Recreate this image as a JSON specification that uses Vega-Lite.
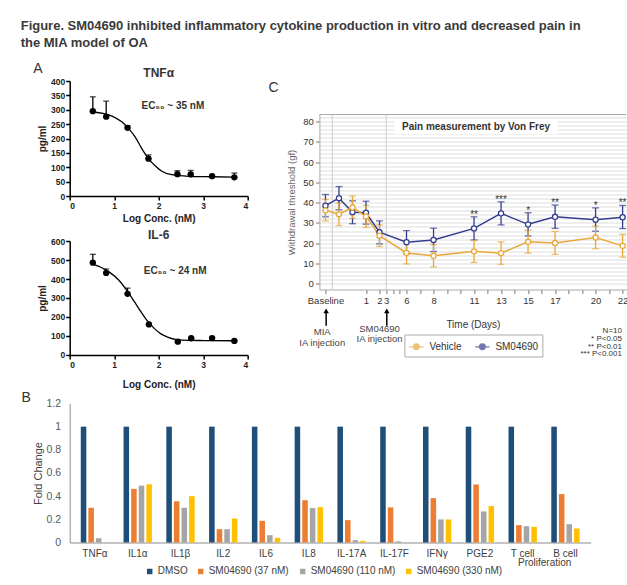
{
  "$schema": "https://vega.github.io/schema/vega-lite/v6.json",
  "background": "white",
  "padding": {"left": 20.7, "top": 20, "right": 0, "bottom": 0},
  "config": {"font": "Liberation Sans", "view": {"stroke": null}, "axis": {"grid": false}},
  "resolve": {"scale": {"color": "independent", "stroke": "independent"}, "legend": {"color": "independent", "stroke": "independent"}},
  "datasets": {
    "tnfPts": [
      {"x": 0.52, "y": 295, "hi": 345}, {"x": 0.82, "y": 276, "hi": 330}, {"x": 1.3, "y": 237, "hi": 245}, {"x": 1.77, "y": 130, "hi": 143},
      {"x": 2.42, "y": 76, "hi": 88}, {"x": 2.72, "y": 75, "hi": 89}, {"x": 3.2, "y": 69, "hi": 71}, {"x": 3.7, "y": 65, "hi": 80}
    ],
    "tnfCurve": [
      {"x": 0.52, "y": 293}, {"x": 0.75, "y": 287}, {"x": 0.95, "y": 278}, {"x": 1.17, "y": 258}, {"x": 1.31, "y": 237},
      {"x": 1.47, "y": 206}, {"x": 1.62, "y": 165}, {"x": 1.77, "y": 130}, {"x": 1.92, "y": 105}, {"x": 2.07, "y": 86},
      {"x": 2.29, "y": 74}, {"x": 2.67, "y": 68.5}, {"x": 3.19, "y": 67}, {"x": 3.7, "y": 66}
    ],
    "il6Pts": [
      {"x": 0.52, "y": 486, "hi": 530}, {"x": 0.82, "y": 432, "hi": 453}, {"x": 1.3, "y": 322, "hi": 352}, {"x": 1.78, "y": 161, "hi": 165},
      {"x": 2.43, "y": 70, "hi": 72}, {"x": 2.73, "y": 88, "hi": 90}, {"x": 3.2, "y": 89, "hi": 91}, {"x": 3.7, "y": 74, "hi": 76}
    ],
    "il6Curve": [
      {"x": 0.52, "y": 478}, {"x": 0.7, "y": 462}, {"x": 0.9, "y": 435}, {"x": 1.1, "y": 395}, {"x": 1.3, "y": 335},
      {"x": 1.45, "y": 282}, {"x": 1.6, "y": 228}, {"x": 1.75, "y": 178}, {"x": 1.9, "y": 140}, {"x": 2.05, "y": 111},
      {"x": 2.2, "y": 94}, {"x": 2.4, "y": 81}, {"x": 2.7, "y": 77}, {"x": 3.0, "y": 76}, {"x": 3.7, "y": 75}
    ],
    "pain": [
      {"p": 0, "g": "SM04690", "m": 38.5, "lo": 33.0, "hi": 44.0},
      {"p": 1, "g": "SM04690", "m": 42.2, "lo": 36.5, "hi": 47.9},
      {"p": 2, "g": "SM04690", "m": 35.3, "lo": 29.6, "hi": 40.9},
      {"p": 3, "g": "SM04690", "m": 35.0, "lo": 29.4, "hi": 40.7},
      {"p": 4, "g": "SM04690", "m": 25.4, "lo": 19.7, "hi": 31.0},
      {"p": 6, "g": "SM04690", "m": 20.5, "lo": 14.8, "hi": 26.2},
      {"p": 8, "g": "SM04690", "m": 21.6, "lo": 15.9, "hi": 27.4},
      {"p": 11, "g": "SM04690", "m": 27.3, "lo": 21.6, "hi": 33.0, "s": "**"},
      {"p": 13, "g": "SM04690", "m": 34.7, "lo": 29.0, "hi": 40.4, "s": "***"},
      {"p": 15, "g": "SM04690", "m": 29.3, "lo": 23.6, "hi": 35.0, "s": "*"},
      {"p": 17, "g": "SM04690", "m": 33.0, "lo": 27.3, "hi": 38.8, "s": "**"},
      {"p": 20, "g": "SM04690", "m": 31.6, "lo": 25.9, "hi": 37.4, "s": "*"},
      {"p": 22, "g": "SM04690", "m": 32.8, "lo": 27.2, "hi": 38.6, "s": "**"},
      {"p": 0, "g": "Vehicle", "m": 36.2, "lo": 31.0, "hi": 41.5},
      {"p": 1, "g": "Vehicle", "m": 34.3, "lo": 28.7, "hi": 39.8},
      {"p": 2, "g": "Vehicle", "m": 37.6, "lo": 32.2, "hi": 43.2},
      {"p": 3, "g": "Vehicle", "m": 33.2, "lo": 27.8, "hi": 38.6},
      {"p": 4, "g": "Vehicle", "m": 23.7, "lo": 18.4, "hi": 29.0},
      {"p": 6, "g": "Vehicle", "m": 15.2, "lo": 9.8, "hi": 20.6},
      {"p": 8, "g": "Vehicle", "m": 13.8, "lo": 8.3, "hi": 19.3},
      {"p": 11, "g": "Vehicle", "m": 16.0, "lo": 10.5, "hi": 21.5},
      {"p": 13, "g": "Vehicle", "m": 15.1, "lo": 9.6, "hi": 20.7},
      {"p": 15, "g": "Vehicle", "m": 20.7, "lo": 15.1, "hi": 26.3},
      {"p": 17, "g": "Vehicle", "m": 20.1, "lo": 14.5, "hi": 25.8},
      {"p": 20, "g": "Vehicle", "m": 22.8, "lo": 17.3, "hi": 28.4},
      {"p": 22, "g": "Vehicle", "m": 18.7, "lo": 13.1, "hi": 24.4}
    ],
    "bars": [
      {"c": "TNFα", "t": "DMSO", "v": 1}, {"c": "TNFα", "t": "SM04690 (37 nM)", "v": 0.30}, {"c": "TNFα", "t": "SM04690 (110 nM)", "v": 0.037}, {"c": "TNFα", "t": "SM04690 (330 nM)", "v": 0.0},
      {"c": "IL1α", "t": "DMSO", "v": 1}, {"c": "IL1α", "t": "SM04690 (37 nM)", "v": 0.463}, {"c": "IL1α", "t": "SM04690 (110 nM)", "v": 0.491}, {"c": "IL1α", "t": "SM04690 (330 nM)", "v": 0.503},
      {"c": "IL1β", "t": "DMSO", "v": 1}, {"c": "IL1β", "t": "SM04690 (37 nM)", "v": 0.356}, {"c": "IL1β", "t": "SM04690 (110 nM)", "v": 0.299}, {"c": "IL1β", "t": "SM04690 (330 nM)", "v": 0.40},
      {"c": "IL2", "t": "DMSO", "v": 1}, {"c": "IL2", "t": "SM04690 (37 nM)", "v": 0.115}, {"c": "IL2", "t": "SM04690 (110 nM)", "v": 0.115}, {"c": "IL2", "t": "SM04690 (330 nM)", "v": 0.207},
      {"c": "IL6", "t": "DMSO", "v": 1}, {"c": "IL6", "t": "SM04690 (37 nM)", "v": 0.187}, {"c": "IL6", "t": "SM04690 (110 nM)", "v": 0.063}, {"c": "IL6", "t": "SM04690 (330 nM)", "v": 0.04},
      {"c": "IL8", "t": "DMSO", "v": 1}, {"c": "IL8", "t": "SM04690 (37 nM)", "v": 0.365}, {"c": "IL8", "t": "SM04690 (110 nM)", "v": 0.297}, {"c": "IL8", "t": "SM04690 (330 nM)", "v": 0.305},
      {"c": "IL-17A", "t": "DMSO", "v": 1}, {"c": "IL-17A", "t": "SM04690 (37 nM)", "v": 0.193}, {"c": "IL-17A", "t": "SM04690 (110 nM)", "v": 0.02}, {"c": "IL-17A", "t": "SM04690 (330 nM)", "v": 0.014},
      {"c": "IL-17F", "t": "DMSO", "v": 1}, {"c": "IL-17F", "t": "SM04690 (37 nM)", "v": 0.303}, {"c": "IL-17F", "t": "SM04690 (110 nM)", "v": 0.01}, {"c": "IL-17F", "t": "SM04690 (330 nM)", "v": 0.0},
      {"c": "IFNγ", "t": "DMSO", "v": 1}, {"c": "IFNγ", "t": "SM04690 (37 nM)", "v": 0.383}, {"c": "IFNγ", "t": "SM04690 (110 nM)", "v": 0.199}, {"c": "IFNγ", "t": "SM04690 (330 nM)", "v": 0.199},
      {"c": "PGE2", "t": "DMSO", "v": 1}, {"c": "PGE2", "t": "SM04690 (37 nM)", "v": 0.501}, {"c": "PGE2", "t": "SM04690 (110 nM)", "v": 0.268}, {"c": "PGE2", "t": "SM04690 (330 nM)", "v": 0.314},
      {"c": "T cell", "t": "DMSO", "v": 1}, {"c": "T cell", "t": "SM04690 (37 nM)", "v": 0.15}, {"c": "T cell", "t": "SM04690 (110 nM)", "v": 0.141}, {"c": "T cell", "t": "SM04690 (330 nM)", "v": 0.135},
      {"c": "B cell", "t": "DMSO", "v": 1}, {"c": "B cell", "t": "SM04690 (37 nM)", "v": 0.418}, {"c": "B cell", "t": "SM04690 (110 nM)", "v": 0.158}, {"c": "B cell", "t": "SM04690 (330 nM)", "v": 0.121}
    ]
  },
  "spacing": 1.5,
  "vconcat": [
    {
      "title": {
        "text": ["Figure. SM04690 inhibited inflammatory cytokine production in vitro and decreased pain in", "the MIA model of OA"],
        "anchor": "start", "frame": "bounds", "fontSize": 13, "fontWeight": "bold", "color": "#3a3a3a", "lineHeight": 17, "offset": 12, "dx": -12.6
      },
      "spacing": 19.7,
      "resolve": {"scale": {"color": "independent", "stroke": "independent"}, "legend": {"color": "independent", "stroke": "independent"}},
      "hconcat": [
        {
          "bounds": "flush",
          "spacing": 45,
          "title": {"text": "A", "anchor": "start", "frame": "bounds", "fontSize": 14, "fontWeight": "normal", "color": "#333", "offset": -9, "dx": -4.2},
          "vconcat": [
            {
              "width": 178, "height": 115,
              "title": {"text": "TNFα", "fontSize": 12, "fontWeight": "bold", "color": "#333", "offset": -3},
              "layer": [
                {
                  "data": {"name": "tnfCurve"},
                  "mark": {"type": "line", "interpolate": "monotone", "color": "black", "strokeWidth": 1.3},
                  "encoding": {
                    "x": {"field": "x", "type": "quantitative", "title": "Log Conc. (nM)", "scale": {"domain": [0, 4], "nice": false, "zero": false},
                      "axis": {"values": [0, 1, 2, 3, 4], "tickCount": 100, "labelOverlap": false, "format": "d", "domainColor": "black", "domainWidth": 1.5, "tickColor": "black", "tickWidth": 1.5, "tickSize": 4, "labelFontSize": 8.5, "labelFontWeight": "bold", "labelColor": "#222", "labelPadding": 1, "titleFontSize": 10, "titleFontWeight": "bold", "titleColor": "#222", "titlePadding": 4}},
                    "y": {"field": "y", "type": "quantitative", "title": "pg/ml", "scale": {"domain": [0, 400], "nice": false},
                      "axis": {"values": [0, 50, 100, 150, 200, 250, 300, 350, 400], "tickCount": 100, "labelOverlap": false, "format": "d", "domainColor": "black", "domainWidth": 1.5, "tickColor": "black", "tickWidth": 1.5, "tickSize": 4, "labelFontSize": 8.5, "labelFontWeight": "bold", "labelColor": "#222", "labelPadding": 1, "titleFontSize": 10, "titleFontWeight": "bold", "titleColor": "#222", "titlePadding": 3}}
                  }
                },
                {
                  "data": {"name": "tnfPts"},
                  "mark": {"type": "errorbar", "color": "black", "thickness": 1.3, "ticks": {"size": 6}},
                  "encoding": {
                    "x": {"field": "x", "type": "quantitative", "title": "Log Conc. (nM)"},
                    "y": {"field": "y", "type": "quantitative", "title": "pg/ml"},
                    "y2": {"field": "hi"}
                  }
                },
                {
                  "data": {"name": "tnfPts"},
                  "mark": {"type": "circle", "color": "black", "size": 40, "opacity": 1},
                  "encoding": {
                    "x": {"field": "x", "type": "quantitative", "title": "Log Conc. (nM)"},
                    "y": {"field": "y", "type": "quantitative", "title": "pg/ml"}
                  }
                },
                {
                  "data": {"values": [{}]},
                  "mark": {"type": "text", "text": "EC₅₀ ~ 35 nM", "fontSize": 10, "fontWeight": "bold", "color": "#333"},
                  "encoding": {"x": {"datum": 2.32}, "y": {"datum": 312}}
                }
              ]
            },
            {
              "width": 178, "height": 114,
              "title": {"text": "IL-6", "fontSize": 12, "fontWeight": "bold", "color": "#333", "offset": -5},
              "layer": [
                {
                  "data": {"name": "il6Curve"},
                  "mark": {"type": "line", "interpolate": "monotone", "color": "black", "strokeWidth": 1.3},
                  "encoding": {
                    "x": {"field": "x", "type": "quantitative", "title": "Log Conc. (nM)", "scale": {"domain": [0, 4], "nice": false, "zero": false},
                      "axis": {"values": [0, 1, 2, 3, 4], "tickCount": 100, "labelOverlap": false, "format": "d", "domainColor": "black", "domainWidth": 1.5, "tickColor": "black", "tickWidth": 1.5, "tickSize": 4, "labelFontSize": 8.5, "labelFontWeight": "bold", "labelColor": "#222", "labelPadding": 2, "titleFontSize": 10, "titleFontWeight": "bold", "titleColor": "#222", "titlePadding": 10}},
                    "y": {"field": "y", "type": "quantitative", "title": "pg/ml", "scale": {"domain": [0, 600], "nice": false},
                      "axis": {"values": [0, 100, 200, 300, 400, 500, 600], "tickCount": 100, "labelOverlap": false, "format": "d", "domainColor": "black", "domainWidth": 1.5, "tickColor": "black", "tickWidth": 1.5, "tickSize": 4, "labelFontSize": 8.5, "labelFontWeight": "bold", "labelColor": "#222", "labelPadding": 1, "titleFontSize": 10, "titleFontWeight": "bold", "titleColor": "#222", "titlePadding": 3}}
                  }
                },
                {
                  "data": {"name": "il6Pts"},
                  "mark": {"type": "errorbar", "color": "black", "thickness": 1.3, "ticks": {"size": 6}},
                  "encoding": {
                    "x": {"field": "x", "type": "quantitative", "title": "Log Conc. (nM)"},
                    "y": {"field": "y", "type": "quantitative", "title": "pg/ml"},
                    "y2": {"field": "hi"}
                  }
                },
                {
                  "data": {"name": "il6Pts"},
                  "mark": {"type": "circle", "color": "black", "size": 40, "opacity": 1},
                  "encoding": {
                    "x": {"field": "x", "type": "quantitative", "title": "Log Conc. (nM)"},
                    "y": {"field": "y", "type": "quantitative", "title": "pg/ml"}
                  }
                },
                {
                  "data": {"values": [{}]},
                  "mark": {"type": "text", "text": "EC₅₀ ~ 24 nM", "fontSize": 10, "fontWeight": "bold", "color": "#333"},
                  "encoding": {"x": {"datum": 2.37}, "y": {"datum": 444}}
                }
              ]
            }
          ]
        },
        {
          "bounds": "flush",
          "spacing": 32.5,
          "resolve": {"scale": {"color": "independent", "stroke": "independent"}, "legend": {"color": "independent", "stroke": "independent"}},
          "vconcat": [
            {"width": 1, "height": 1, "data": {"values": []}, "mark": "point"},
            {
              "width": 307, "height": 175,
              "title": {"text": "C", "anchor": "start", "frame": "bounds", "fontSize": 14, "fontWeight": "normal", "color": "#333", "offset": 17, "dx": -18.4},
              "data": {"name": "pain"},
              "layer": [
                {
                  "data": {"values": [{}]},
                  "mark": {"type": "rule", "color": "#cccccc", "strokeWidth": 1},
                  "encoding": {"x": {"datum": 0.5}}
                },
                {
                  "data": {"values": [{}]},
                  "mark": {"type": "rule", "color": "#cccccc", "strokeWidth": 1},
                  "encoding": {"x": {"datum": 4.5}}
                },
                {
                  "data": {"values": [{}]},
                  "mark": {"type": "rule", "color": "#aaaaaa", "strokeWidth": 1},
                  "encoding": {"y": {"datum": 83.4}}
                },
                {
                  "data": {"values": [{}]},
                  "mark": {"type": "rect", "fill": "white"},
                  "encoding": {"x": {"datum": 5.1}, "x2": {"datum": 17.2}, "y": {"datum": 73.7}, "y2": {"datum": 81.1}}
                },
                {
                  "data": {"values": [{}]},
                  "mark": {"type": "text", "text": "Pain measurement by Von Frey", "fontSize": 10, "fontWeight": "bold", "color": "#333"},
                  "encoding": {"x": {"datum": 11.15}, "y": {"datum": 77.4}}
                },
                {
                  "mark": {"type": "line", "strokeWidth": 1.5},
                  "encoding": {
                    "x": {"field": "p", "type": "quantitative", "title": "Time (Days)", "scale": {"domain": [-0.45, 22.28], "nice": false, "zero": false},
                      "axis": {"values": [0, 3, 4, 4.5, 5, 5.5, 6, 7, 8, 9, 10, 11, 12, 13, 14, 15, 16, 17, 18, 19, 20, 21, 22], "tickCount": 100,
                        "labelExpr": "datum.value === 0 ? 'Baseline' : datum.value === 3 ? '1' : datum.value === 4 ? '2' : datum.value === 4.5 ? '3' : indexof([6, 8, 11, 13, 15, 17, 20, 22], datum.value) >= 0 ? '' + datum.value : ''",
                        "labelOverlap": false, "labelFlush": false, "labelBound": false, "domainColor": "#aaaaaa", "tickColor": "#777777", "tickSize": 4, "labelFontSize": 9.5, "labelColor": "#333", "labelPadding": 2, "titleFontSize": 10, "titleFontWeight": "normal", "titleColor": "#333", "titlePadding": 15}},
                    "y": {"field": "m", "type": "quantitative", "title": "Withdrawal threshold (gf)", "scale": {"domain": [-2.8, 83.4], "nice": false, "zero": false},
                      "axis": {"values": [0, 2, 4, 6, 8, 10, 12, 14, 16, 18, 20, 22, 24, 26, 28, 30, 32, 34, 36, 38, 40, 42, 44, 46, 48, 50, 52, 54, 56, 58, 60, 62, 64, 66, 68, 70, 72, 74, 76, 78, 80, 82], "tickCount": 100,
                        "labelExpr": "datum.value % 10 === 0 ? format(datum.value, 'd') : ''",
                        "tickOpacity": {"condition": {"test": "datum.value % 10 === 0", "value": 1}, "value": 0},
                        "grid": true, "gridColor": "#dddddd", "gridWidth": 1,
                        "labelOverlap": false, "labelFlush": false, "labelBound": false, "domainColor": "#aaaaaa", "tickColor": "#777777", "tickSize": 4, "labelFontSize": 9.5, "labelColor": "#333", "labelPadding": 2, "titleFontSize": 9.5, "titleFontWeight": "normal", "titleColor": "#666", "titlePadding": 6}},
                    "color": {"field": "g", "type": "nominal", "scale": {"domain": ["Vehicle", "SM04690"], "range": ["#e8a83a", "#343d8e"]},
                      "legend": {"orient": "none", "legendX": 85, "legendY": 220, "direction": "horizontal", "title": null, "strokeColor": "#aaaaaa", "padding": 4,
                        "labelFontSize": 10, "labelColor": "#333", "columnPadding": 10, "labelOffset": 5,
                        "symbolType": "M-1,0H-0.4M0.4,0H1M-0.4,0A0.4,0.4,0,1,0,0.4,0A0.4,0.4,0,1,0,-0.4,0", "symbolSize": 200, "symbolStrokeWidth": 1.3, "symbolFillColor": "white"}}
                  }
                },
                {
                  "mark": {"type": "errorbar", "thickness": 1.3, "ticks": {"size": 7}},
                  "encoding": {
                    "x": {"field": "p", "type": "quantitative", "title": "Time (Days)"},
                    "y": {"field": "lo", "type": "quantitative", "title": "Withdrawal threshold (gf)"},
                    "y2": {"field": "hi"},
                    "color": {"field": "g", "type": "nominal"}
                  }
                },
                {
                  "mark": {"type": "point", "filled": true, "fill": "white", "size": 26, "strokeWidth": 1.3, "opacity": 1},
                  "encoding": {
                    "x": {"field": "p", "type": "quantitative", "title": "Time (Days)"},
                    "y": {"field": "m", "type": "quantitative", "title": "Withdrawal threshold (gf)"},
                    "stroke": {"field": "g", "type": "nominal", "scale": {"domain": ["Vehicle", "SM04690"], "range": ["#e8a83a", "#343d8e"]}, "legend": null}
                  }
                },
                {
                  "transform": [{"filter": "datum.s"}],
                  "mark": {"type": "text", "fontSize": 10, "color": "#333", "baseline": "alphabetic", "dy": 1},
                  "encoding": {
                    "x": {"field": "p", "type": "quantitative"},
                    "y": {"field": "hi", "type": "quantitative"},
                    "text": {"field": "s"}
                  }
                },
                {
                  "data": {"values": [{}]},
                  "mark": {"type": "rule", "color": "black", "strokeWidth": 1.5},
                  "encoding": {"x": {"datum": 0.05}, "y": {"datum": -20.7}, "y2": {"datum": -13.5}}
                },
                {
                  "data": {"values": [{}]},
                  "mark": {"type": "point", "shape": "triangle-up", "filled": true, "color": "black", "size": 30, "opacity": 1},
                  "encoding": {"x": {"datum": 0.05}, "y": {"datum": -13.3}}
                },
                {
                  "data": {"values": [{}]},
                  "mark": {"type": "rule", "color": "black", "strokeWidth": 1.5},
                  "encoding": {"x": {"datum": 4.54}, "y": {"datum": -20.7}, "y2": {"datum": -13.5}}
                },
                {
                  "data": {"values": [{}]},
                  "mark": {"type": "point", "shape": "triangle-up", "filled": true, "color": "black", "size": 30, "opacity": 1},
                  "encoding": {"x": {"datum": 4.54}, "y": {"datum": -13.3}}
                },
                {
                  "data": {"values": [{}]},
                  "mark": {"type": "text", "text": ["MIA", "IA injection"], "align": "center", "baseline": "top", "fontSize": 9.5, "lineHeight": 10.5, "color": "#444"},
                  "encoding": {"x": {"datum": -0.24}, "y": {"datum": -21.5}}
                },
                {
                  "data": {"values": [{}]},
                  "mark": {"type": "text", "text": ["SM04690", "IA injection"], "align": "center", "baseline": "top", "fontSize": 9.5, "lineHeight": 10.5, "color": "#444"},
                  "encoding": {"x": {"datum": 4.0}, "y": {"datum": -19.6}}
                },
                {
                  "data": {"values": [{}]},
                  "mark": {"type": "text", "text": ["N=10", "* P<0.05", "** P<0.01", "*** P<0.001"], "align": "right", "baseline": "top", "fontSize": 8, "lineHeight": 7.8, "color": "#333"},
                  "encoding": {"x": {"datum": 21.95}, "y": {"datum": -21.3}}
                }
              ]
            }
          ]
        }
      ]
    },
    {
      "width": 521, "height": 139,
      "title": {"text": "B", "anchor": "start", "frame": "bounds", "fontSize": 14, "fontWeight": "normal", "color": "#333", "offset": -7, "dx": -10.7},
      "data": {"name": "bars"},
      "layer": [
        {
          "mark": {"type": "bar"},
          "encoding": {
            "x": {"field": "c", "type": "nominal", "sort": ["TNFα", "IL1α", "IL1β", "IL2", "IL6", "IL8", "IL-17A", "IL-17F", "IFNγ", "PGE2", "T cell", "B cell"],
              "scale": {"paddingInner": 0.32, "paddingOuter": 0.25},
              "axis": {"title": null, "labelAngle": 0, "ticks": false, "domainColor": "#8c8c8c", "labelFontSize": 10, "labelColor": "#404040", "labelPadding": 6}},
            "xOffset": {"field": "t", "type": "nominal", "sort": ["DMSO", "SM04690 (37 nM)", "SM04690 (110 nM)", "SM04690 (330 nM)"], "scale": {"paddingInner": 0.27, "paddingOuter": 0.05}},
            "y": {"field": "v", "type": "quantitative", "title": "Fold Change", "scale": {"domain": [0, 1.2], "nice": false},
              "axis": {"values": [0, 0.2, 0.4, 0.6, 0.8, 1, 1.2], "tickCount": 100, "labelOverlap": false, "format": "~g", "ticks": false, "domainColor": "#8c8c8c", "labelFontSize": 10.5, "labelColor": "#595959", "labelPadding": 9, "titleFontSize": 11, "titleFontWeight": "normal", "titleColor": "#404040", "titlePadding": 3}},
            "color": {"field": "t", "type": "nominal", "scale": {"domain": ["DMSO", "SM04690 (37 nM)", "SM04690 (110 nM)", "SM04690 (330 nM)"], "range": ["#1f4e79", "#ed7d31", "#a5a5a5", "#ffc000"]},
              "legend": {"orient": "none", "legendX": 75, "legendY": 163, "direction": "horizontal", "title": null, "symbolType": "square", "symbolSize": 30, "symbolStrokeWidth": 0, "labelFontSize": 10, "labelColor": "#404040", "columnPadding": 8, "labelOffset": 3}}
          }
        },
        {
          "data": {"values": [{}]},
          "mark": {"type": "text", "text": "Proliferation", "fontSize": 10, "color": "#404040", "dx": 22, "dy": 21, "baseline": "middle"},
          "encoding": {"x": {"datum": "T cell"}, "y": {"datum": 0}}
        }
      ]
    }
  ]
}
